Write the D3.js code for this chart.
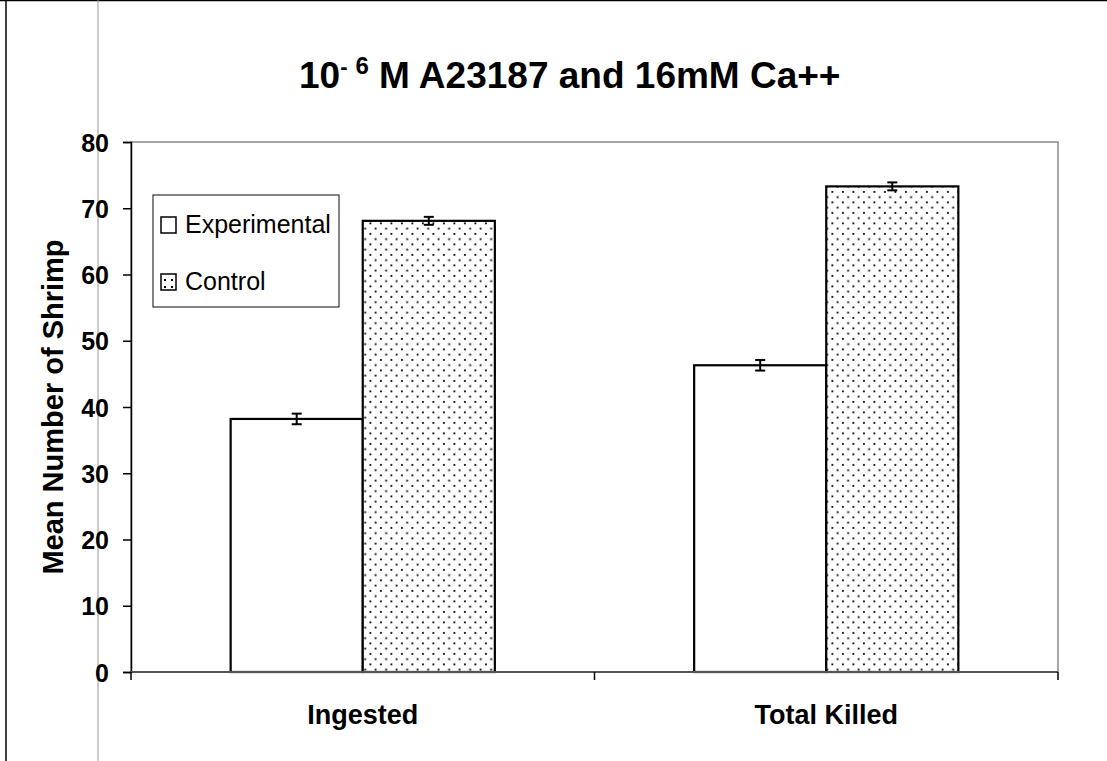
<!DOCTYPE html>
<html>
<head>
<meta charset="utf-8">
<script src="https://cdn.jsdelivr.net/npm/d3@7"></script>
<style>
  body { margin: 0; background: #fff; }
  text { font-family: "Liberation Sans", Arial, sans-serif; font-weight: bold; fill: #000; }
</style>
</head>
<body>
<script>
var width = 1107;
var height = 761;

// data
var categories = ['Ingested', 'Total Killed'];
var seriesNames = ['Experimental', 'Control'];
var experimental = [38.2, 46.3];
var control = [68.1, 73.3];
var expErr = [0.8, 0.8];
var ctrlErr = [0.6, 0.6];
var yTicks = [0, 10, 20, 30, 40, 50, 60, 70, 80];

var margin = {left: 131, right: 1058, top: 142, bottom: 672};

var svg = d3.select('body').append('svg')
    .attr('width', width)
    .attr('height', height);

// dotted fill for the control bars
var defs = svg.append('defs');
var pat = defs.append('pattern')
    .attr('id', 'dots')
    .attr('patternUnits', 'userSpaceOnUse')
    .attr('width', 10.5)
    .attr('height', 10.5);
pat.append('rect').attr('width', 10.5).attr('height', 10.5).attr('fill', '#fff');
pat.append('rect').attr('x', 2).attr('y', 2).attr('width', 1.8).attr('height', 1.8).attr('fill', '#000');
pat.append('rect').attr('x', 7.25).attr('y', 7.25).attr('width', 1.8).attr('height', 1.8).attr('fill', '#000');

var small = defs.append('pattern')
    .attr('id', 'dotsSmall')
    .attr('patternUnits', 'userSpaceOnUse')
    .attr('width', 7)
    .attr('height', 7);
small.append('rect').attr('width', 7).attr('height', 7).attr('fill', '#fff');
small.append('rect').attr('x', 3).attr('y', 3).attr('width', 2).attr('height', 2).attr('fill', '#000');

// page edges from the scan
svg.append('line').attr('x1', 0).attr('x2', width).attr('y1', 0.5).attr('y2', 0.5)
    .attr('stroke', '#000').attr('stroke-width', 1.5);
svg.append('line').attr('x1', 6).attr('x2', 6).attr('y1', 0).attr('y2', height)
    .attr('stroke', '#000').attr('stroke-width', 1.5);
svg.append('line').attr('x1', 98).attr('x2', 98).attr('y1', 0).attr('y2', height)
    .attr('stroke', '#999').attr('stroke-width', 1);

var x0 = d3.scaleBand()
    .domain(categories)
    .range([margin.left, margin.right])
    .paddingInner(0.43)
    .paddingOuter(0.215);

var x1 = d3.scaleBand()
    .domain(seriesNames)
    .range([0, x0.bandwidth()]);

var y = d3.scaleLinear()
    .domain([0, 80])
    .range([margin.bottom, margin.top]);

// plot area frame
svg.append('rect')
    .attr('x', margin.left)
    .attr('y', margin.top)
    .attr('width', margin.right - margin.left)
    .attr('height', margin.bottom - margin.top)
    .attr('fill', 'none')
    .attr('stroke', '#888')
    .attr('stroke-width', 1.5);

// title
var title = svg.append('text')
    .attr('x', 299)
    .attr('y', 88)
    .style('font-size', '37px');
title.append('tspan').text('10');
title.append('tspan').attr('dy', -14).style('font-size', '22px').text('-');
title.append('tspan').attr('dx', 8).style('font-size', '24px').text('6');
title.append('tspan').attr('dy', 14).text(' M A23187 and 16mM Ca++');

// bars
var rows = categories.map(function(c, i) {
  return [
    {cat: c, s: 'Experimental', v: experimental[i], e: expErr[i]},
    {cat: c, s: 'Control', v: control[i], e: ctrlErr[i]}
  ];
});
var flat = [].concat.apply([], rows);

svg.selectAll('rect.bar')
    .data(flat)
  .enter().append('rect')
    .attr('class', 'bar')
    .attr('x', function(d) { return x0(d.cat) + x1(d.s); })
    .attr('y', function(d) { return y(d.v); })
    .attr('width', x1.bandwidth())
    .attr('height', function(d) { return y(0) - y(d.v); })
    .attr('fill', function(d) { return d.s === 'Control' ? 'url(#dots)' : '#fff'; })
    .attr('stroke', '#000')
    .attr('stroke-width', 2.2);

// error bars
var eb = svg.selectAll('g.err')
    .data(flat)
  .enter().append('g')
    .attr('class', 'err')
    .attr('transform', function(d) { return 'translate(' + (x0(d.cat) + x1(d.s) + x1.bandwidth() / 2) + ',0)'; });
eb.append('line')
    .attr('y1', function(d) { return y(d.v + d.e); })
    .attr('y2', function(d) { return y(d.v - d.e); })
    .attr('stroke', '#000').attr('stroke-width', 2);
eb.append('line')
    .attr('x1', -5).attr('x2', 5)
    .attr('y1', function(d) { return y(d.v + d.e); })
    .attr('y2', function(d) { return y(d.v + d.e); })
    .attr('stroke', '#000').attr('stroke-width', 2);
eb.append('line')
    .attr('x1', -5).attr('x2', 5)
    .attr('y1', function(d) { return y(d.v - d.e); })
    .attr('y2', function(d) { return y(d.v - d.e); })
    .attr('stroke', '#000').attr('stroke-width', 2);

// y axis
var yAxis = svg.append('g')
    .attr('transform', 'translate(' + margin.left + ',0)')
    .call(d3.axisLeft(y).tickValues(yTicks).tickSize(8).tickPadding(14));
yAxis.select('.domain').attr('stroke', '#000').attr('stroke-width', 1.5);
yAxis.selectAll('.tick line').attr('stroke', '#000').attr('stroke-width', 1.5);
yAxis.selectAll('.tick text')
    .style('font-size', '25px')
    .style('font-weight', 'bold')
    .style('font-family', '"Liberation Sans", Arial, sans-serif')
    .attr('dy', '0.36em');

// x axis: category dividers with ticks between groups
var xAxis = svg.append('g');
xAxis.append('line')
    .attr('x1', margin.left).attr('x2', margin.right)
    .attr('y1', y(0)).attr('y2', y(0))
    .attr('stroke', '#555').attr('stroke-width', 2);
var dividers = [margin.left, (margin.left + margin.right) / 2, margin.right];
xAxis.selectAll('line.div')
    .data(dividers)
  .enter().append('line')
    .attr('class', 'div')
    .attr('x1', function(d) { return d; })
    .attr('x2', function(d) { return d; })
    .attr('y1', y(0)).attr('y2', y(0) + 8)
    .attr('stroke', '#000').attr('stroke-width', 1.5);
xAxis.selectAll('text')
    .data(categories)
  .enter().append('text')
    .attr('x', function(d) { return x0(d) + x0.bandwidth() / 2; })
    .attr('y', 724)
    .attr('text-anchor', 'middle')
    .style('font-size', '27px')
    .text(function(d) { return d; });

// y title
svg.append('text')
    .attr('transform', 'translate(63,' + ((margin.top + margin.bottom) / 2) + ') rotate(-90)')
    .attr('text-anchor', 'middle')
    .style('font-size', '29px')
    .text('Mean Number of Shrimp');

// legend
var legend = svg.append('g').attr('transform', 'translate(153,195)');
legend.append('rect')
    .attr('width', 186).attr('height', 112)
    .attr('fill', '#fff').attr('stroke', '#333').attr('stroke-width', 1.2);
var items = legend.selectAll('g.item')
    .data(seriesNames)
  .enter().append('g')
    .attr('class', 'item')
    .attr('transform', function(d, i) { return 'translate(8,' + (38 + i * 57) + ')'; });
items.append('rect')
    .attr('x', 0).attr('y', -16)
    .attr('width', 15).attr('height', 16)
    .attr('fill', function(d) { return d === 'Control' ? 'url(#dotsSmall)' : '#fff'; })
    .attr('stroke', '#000').attr('stroke-width', 1.5);
items.append('text')
    .attr('x', 24)
    .attr('y', 0)
    .style('font-size', '25px')
    .style('font-weight', 'normal')
    .text(function(d) { return d; });
</script>
</body>
</html>
